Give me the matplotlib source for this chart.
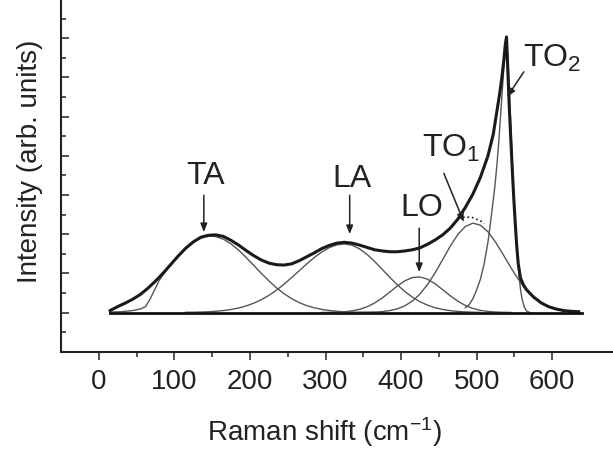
import matplotlib
matplotlib.use("Agg")
from matplotlib import pyplot as plt

plt.rcParams["font.family"] = ["Liberation Sans", "DejaVu Sans"]
plt.rcParams["mathtext.fontset"] = "custom"
plt.rcParams["mathtext.rm"] = "Liberation Sans"
plt.rcParams["mathtext.it"] = "Liberation Sans:italic"

spec_x = [15, 25, 35, 45, 55, 65, 75, 85, 95, 105, 115, 125, 135, 145, 155, 165, 175,
          185, 195, 205, 215, 225, 235, 245, 255, 265, 275, 285, 295, 305, 315, 325,
          335, 345, 355, 365, 375, 385, 395, 405, 415, 425, 435, 445, 455, 465, 475,
          485, 495, 505, 515, 522, 527, 531, 534, 536, 538, 539.5, 541, 543, 545, 547,
          549, 551, 553, 555, 558, 562, 566, 575, 585, 595, 605, 615, 625, 635]
spec_y = [0.05, 0.15, 0.24, 0.34, 0.46, 0.62, 0.80, 1.00, 1.22, 1.44, 1.64, 1.80, 1.92,
          1.97, 1.98, 1.94, 1.84, 1.72, 1.58, 1.45, 1.34, 1.26, 1.22, 1.21, 1.24, 1.32,
          1.42, 1.52, 1.63, 1.71, 1.77, 1.79, 1.77, 1.72, 1.66, 1.60, 1.57, 1.55, 1.55,
          1.57, 1.60, 1.65, 1.74, 1.85, 1.98, 2.15, 2.38, 2.68, 3.02, 3.45, 4.00, 4.55,
          5.16, 5.65, 6.10, 6.45, 6.85, 7.03, 6.30, 5.30, 4.50, 3.70, 2.95, 2.30, 1.70,
          1.25, 0.88, 0.70, 0.58, 0.40, 0.25, 0.15, 0.09, 0.05, 0.03, 0.02]

# fitted components
ta_x = [15, 30, 45, 55, 62, 68, 74, 80, 90, 100, 110, 120, 130, 140, 148, 155, 165, 175,
        185, 195, 205, 215, 225, 235, 245, 255, 265, 275, 285, 295, 305, 315, 325, 335,
        345, 355, 365]
ta_y = [0.01, 0.02, 0.05, 0.09, 0.15, 0.35, 0.58, 0.82, 1.10, 1.33, 1.53, 1.72, 1.86,
        1.93, 1.95, 1.936, 1.868, 1.750, 1.591, 1.405, 1.203, 1.001, 0.808, 0.633, 0.482,
        0.356, 0.255, 0.177, 0.120, 0.079, 0.050, 0.031, 0.019, 0.011, 0.006, 0.003, 0.002]

la_x = [115, 125, 135, 145, 155, 165, 175, 185, 195, 205, 215, 225, 235, 245, 255, 265,
        275, 285, 295, 305, 315, 325, 335, 345, 355, 365, 375, 385, 395, 405, 415, 425,
        435, 445, 455, 465, 475, 485, 495, 505]
la_y = [0.004, 0.007, 0.012, 0.019, 0.032, 0.050, 0.077, 0.115, 0.167, 0.237, 0.326,
        0.436, 0.568, 0.720, 0.886, 1.061, 1.237, 1.401, 1.544, 1.655, 1.726, 1.750,
        1.718, 1.625, 1.482, 1.302, 1.102, 0.899, 0.707, 0.536, 0.391, 0.275, 0.187,
        0.122, 0.077, 0.047, 0.027, 0.015, 0.008, 0.004]

lo_x = [295, 305, 315, 325, 335, 345, 355, 365, 375, 385, 395, 405, 415, 425, 435, 445,
        455, 465, 475, 485, 495, 505, 515, 525, 535, 545]
lo_y = [0.001, 0.003, 0.009, 0.020, 0.041, 0.081, 0.146, 0.242, 0.369, 0.520, 0.676,
        0.809, 0.892, 0.907, 0.849, 0.733, 0.583, 0.428, 0.289, 0.180, 0.103, 0.055,
        0.027, 0.012, 0.005, 0.002]

to1_x = [345, 355, 365, 375, 385, 395, 405, 415, 425, 435, 445, 455, 465, 475, 485, 495,
         505, 515, 525, 535, 545, 555, 565, 575, 585, 595, 605, 615, 625, 635]
to1_y = [0.002, 0.005, 0.011, 0.023, 0.049, 0.094, 0.171, 0.293, 0.472, 0.713, 1.011,
         1.348, 1.689, 1.987, 2.195, 2.279, 2.228, 2.058, 1.796, 1.482, 1.154, 0.850,
         0.591, 0.389, 0.241, 0.142, 0.079, 0.041, 0.020, 0.010]

to2_x = [485, 490, 495, 500, 505, 510, 515, 520, 524, 527, 530, 533, 536, 538, 540, 542,
         544, 546, 548, 550, 552, 554, 556, 558, 560, 563, 566, 570]
to2_y = [0.12, 0.20, 0.35, 0.58, 0.85, 1.25, 1.80, 2.55, 3.20, 3.80, 4.55, 5.40, 6.25,
         6.70, 6.95, 6.20, 5.30, 4.40, 3.50, 2.70, 2.00, 1.40, 0.95, 0.60, 0.35, 0.14,
         0.04, 0.0]

# short dotted piece near the TO1 maximum
dot_x = [476, 485, 495, 505, 510]
dot_y = [2.40, 2.44, 2.42, 2.34, 2.27]

baseline_x = [15, 640]
baseline_y = [0, 0]

# (text, text x, text y, ha, arrow start, arrow tip)
peak_labels = [
    ("TA", 141, 3.29, "center", (139, 2.99), (139, 2.05)),
    ("LA", 335, 3.19, "center", (332, 2.99), (332, 2.00)),
    ("LO", 427, 2.46, "center", (424, 2.15), (424, 1.03)),
    ("TO$_1$", 428, 3.96, "left", (456.6, 3.55), (483, 2.31)),
    ("TO$_2$", 561.5, 6.27, "left", (562.4, 6.14), (540.4, 5.5)),
]

fig = plt.figure(figsize=(6.13, 4.5), dpi=100)
ax = fig.add_axes([61 / 613, 98.3 / 450, 566.8 / 613, 352.8 / 450])

comp_style = dict(color="#555555", lw=1.0)
for cx, cy in [(ta_x, ta_y), (la_x, la_y), (lo_x, lo_y), (to1_x, to1_y), (to2_x, to2_y)]:
    ax.plot(cx, cy, **comp_style)
ax.plot(dot_x, dot_y, color="#333333", lw=1.3, ls=(0, (1, 1.5)))
ax.plot(spec_x, spec_y, color="#1a1a1a", lw=2.2, solid_joinstyle="round")
ax.plot(baseline_x, baseline_y, color="#111111", lw=2.0)

for text, tx, ty, ha, start, tip in peak_labels:
    ax.text(tx, ty, text, ha=ha, va="baseline", fontsize=23, color="#222222")
    ax.annotate("", xy=tip, xytext=start,
                arrowprops=dict(arrowstyle="-|>,head_length=0.5,head_width=0.2",
                                color="#222222", lw=1.1, shrinkA=0, shrinkB=0))

ax.set_xlim(-50, 700)
ax.set_ylim(-1, 8)
ax.set_xticks(range(0, 601, 100))
ax.set_xticks(range(50, 551, 100), minor=True)
ax.set_yticks(range(0, 8))
ax.set_yticks([i + 0.5 for i in range(-1, 8)], minor=True)
ax.set_yticklabels([])

for side in ["top", "right"]:
    ax.spines[side].set_visible(False)
for side in ["left", "bottom"]:
    ax.spines[side].set_linewidth(1.5)
    ax.spines[side].set_color("#222222")

ax.tick_params(axis="x", which="major", direction="out", length=5.8, width=1.1,
               labelsize=20, pad=7, colors="#222222")
ax.tick_params(axis="x", which="minor", direction="out", length=3.6, width=1.1,
               colors="#222222")
ax.tick_params(axis="y", which="major", direction="in", length=5.8, width=1.1,
               colors="#222222")
ax.tick_params(axis="y", which="minor", direction="in", length=3.6, width=1.1,
               colors="#222222")

ax.set_xlabel("Raman shift (cm$^{-1}$)", fontsize=20, color="#222222")
ax.set_ylabel("Intensity (arb. units)", fontsize=20, color="#222222")
ax.xaxis.set_label_coords(0.464, -0.18)
ax.yaxis.set_label_coords(-0.032, 0.54)

fig.savefig("out.png", dpi=100)
